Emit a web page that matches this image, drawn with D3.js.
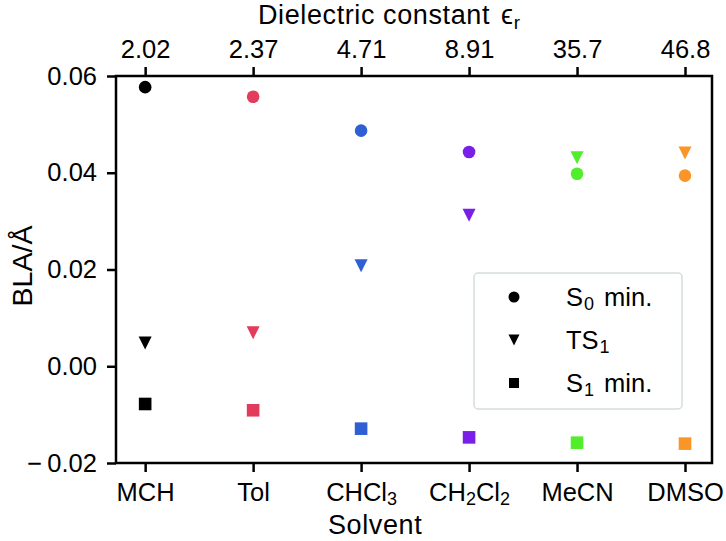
<!DOCTYPE html>
<html>
<head>
<meta charset="utf-8">
<script src="https://cdn.jsdelivr.net/npm/d3@7"></script>
<style>
  body { margin: 0; background: #fff; }
  text { font-family: "Liberation Sans", Arial, sans-serif; fill: #000; }
</style>
</head>
<body>
<svg id="chart" width="726" height="541"></svg>
<script>
const solvents = ["MCH", "Tol", "CHCl3", "CH2Cl2", "MeCN", "DMSO"];
const epsilonLabels = ["2.02", "2.37", "4.71", "8.91", "35.7", "46.8"];
const colors = ["#000000", "#e23b5b", "#2f5fd4", "#7a1fe8", "#52ee2c", "#fa9528"];
const s0Min = [0.0577, 0.0557, 0.0487, 0.0443, 0.0398, 0.0394];
const ts1 = [0.0048, 0.0069, 0.0208, 0.0312, 0.0431, 0.0441];
const s1Min = [-0.0078, -0.0091, -0.0129, -0.0147, -0.0158, -0.0160];
const yTicks = [-0.02, 0, 0.02, 0.04, 0.06];

const svg = d3.select("#chart");
const margin = { top: 76, right: 14, bottom: 78, left: 116 };
const iw = 726 - margin.left - margin.right;
const ih = 541 - margin.top - margin.bottom;
const g = svg.append("g").attr("transform", `translate(${margin.left},${margin.top})`);

const x = d3.scaleLinear().domain([-0.27, 5.25]).range([0, iw]);
const y = d3.scaleLinear().domain([-0.02, 0.06]).range([ih, 0]);

const TICK_FS = 25.5;
const LABEL_FS = 27;

// subscripted labels
const sub = {
  "CHCl3": [["CHCl", ""], ["3", "sub"]],
  "CH2Cl2": [["CH", ""], ["2", "sub"], ["Cl", ""], ["2", "sub"]]
};

// axes
const xb = g.append("g").attr("transform", `translate(0,${ih})`)
  .call(d3.axisBottom(x).tickValues(d3.range(6)).tickSize(9).tickFormat(""));
const xt = g.append("g")
  .call(d3.axisTop(x).tickValues(d3.range(6)).tickSize(9).tickPadding(9).tickFormat((d, i) => epsilonLabels[i]));
const yl = g.append("g")
  .call(d3.axisLeft(y).tickValues(yTicks).tickSize(9).tickPadding(10)
    .tickFormat(d => d < 0 ? "\u2212\u2009" + d3.format(".2f")(-d) : d3.format(".2f")(d)));

[xb, xt, yl].forEach(a => {
  a.select(".domain").remove();
  a.selectAll(".tick line").attr("stroke", "#000").attr("stroke-width", 2.5);
  a.selectAll(".tick text").attr("font-size", TICK_FS).attr("fill", "#000");
});

// bottom labels with subscripts
xb.selectAll(".tick").each(function (d, i) {
  const t = d3.select(this).append("text")
    .attr("y", 38).attr("text-anchor", "middle").attr("font-size", TICK_FS);
  const parts = sub[solvents[i]] || [[solvents[i], ""]];
  parts.forEach(([s, k]) => {
    t.append("tspan").text(s)
      .attr("font-size", k ? 18 : TICK_FS)
      .attr("baseline-shift", k ? "-20%" : null);
  });
});

// frame
g.append("rect").attr("width", iw).attr("height", ih)
  .attr("fill", "none").attr("stroke", "#000").attr("stroke-width", 2.5);

// axis titles
svg.append("text").attr("x", 328).attr("y", 534)
  .attr("font-size", LABEL_FS).attr("letter-spacing", 0.6).text("Solvent");
svg.append("text")
  .attr("transform", "translate(32,266) rotate(-90)")
  .attr("text-anchor", "middle").attr("font-size", 28.5).text("BLA/Å");
const tt = svg.append("text").attr("x", 258).attr("y", 24)
  .attr("font-size", LABEL_FS).attr("letter-spacing", 0.6);
tt.append("tspan").text("Dielectric constant ");
tt.append("tspan").text("\u03f5").attr("dx", 3);
tt.append("tspan").text("r").attr("font-size", 19).attr("baseline-shift", "-25%");

// markers
const triDown = s => `M${-s / 2},${-s / 2}L${s / 2},${-s / 2}L0,${s / 2}Z`;

g.selectAll(".s0").data(s0Min).join("circle")
  .attr("cx", (d, i) => x(i)).attr("cy", d => y(d)).attr("r", 6.3)
  .attr("fill", (d, i) => colors[i]);
g.selectAll(".ts").data(ts1).join("path")
  .attr("d", triDown(13))
  .attr("transform", (d, i) => `translate(${x(i)},${y(d)})`)
  .attr("fill", (d, i) => colors[i]);
g.selectAll(".s1").data(s1Min).join("rect")
  .attr("x", (d, i) => x(i) - 6.3).attr("y", d => y(d) - 6.3)
  .attr("width", 12.6).attr("height", 12.6)
  .attr("fill", (d, i) => colors[i]);

// legend
const lg = svg.append("g").attr("transform", "translate(474,273)");
lg.append("rect").attr("width", 208).attr("height", 136).attr("rx", 4)
  .attr("fill", "#fff").attr("stroke", "#d5dcdc").attr("stroke-width", 1.5);
const items = [
  { shape: "circle", label: [["S", ""], ["0", "sub"], [" min.", ""]] },
  { shape: "tri", label: [["TS", ""], ["1", "sub"]] },
  { shape: "square", label: [["S", ""], ["1", "sub"], [" min.", ""]] }
];
items.forEach((it, i) => {
  const row = lg.append("g").attr("transform", `translate(40,${24 + i * 43})`);
  if (it.shape === "circle") row.append("circle").attr("r", 5.5).attr("fill", "#000");
  else if (it.shape === "tri") row.append("path").attr("d", triDown(11)).attr("fill", "#000");
  else row.append("rect").attr("x", -5).attr("y", -5).attr("width", 10).attr("height", 10).attr("fill", "#000");
  const t = row.append("text").attr("x", 52).attr("y", 9).attr("font-size", TICK_FS);
  it.label.forEach(([s, k]) => {
    t.append("tspan").text(s).attr("font-size", k ? 18 : TICK_FS)
      .attr("baseline-shift", k ? "-20%" : null)
      .attr("dx", k ? 1 : (s.startsWith(" ") ? 3 : null));
  });
});
</script>
</body>
</html>
